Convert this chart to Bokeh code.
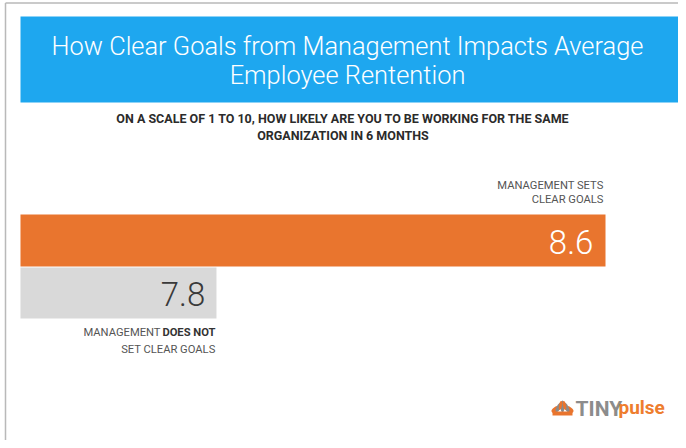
from bokeh.plotting import figure
from bokeh.models import Range1d
from bokeh.core.properties import value
from bokeh.embed import file_html
from bokeh.resources import INLINE

# ---- data ----
title_lines = ["How Clear Goals from Management Impacts Average", "Employee Rentention"]
subtitle_lines = ["ON A SCALE OF 1 TO 10, HOW LIKELY ARE YOU TO BE WORKING FOR THE SAME",
                  "ORGANIZATION IN 6 MONTHS"]
groups = ["Management sets clear goals", "Management does not set clear goals"]
scores = [8.6, 7.8]
score_labels = ["8.6", "7.8"]
axis_base = 7.397

W, H = 678, 440
FONT = value("Roboto")
LIGHT = value("Roboto Light, Roboto")

p = figure(width=W, height=H, output_backend="svg", toolbar_location=None,
           x_range=Range1d(7.3559, 8.7501), y_range=Range1d(H, 0),
           min_border=0, background_fill_color="white", border_fill_color="white")
p.extra_x_ranges = {"px": Range1d(0, W)}
p.axis.visible = False
p.grid.visible = False
p.outline_line_color = None

# border
p.segment(x0=[5, 5], y0=[2.5, 2.5], x1=[5, W], y1=[H, 2.5],
          line_color="#b9b9b9", line_width=1.5, x_range_name="px")

# banner
p.quad(left=[20], right=[681], top=[16], bottom=[102], fill_color="#1ea7ef",
       line_color=None, x_range_name="px")
p.text(x=[347, 347], y=[45, 74], text=title_lines, x_range_name="px",
       text_font=LIGHT, text_font_size="25.4px", text_color="white",
       text_align="center", text_baseline="middle")

# subtitle
p.text(x=[342.5, 342.5], y=[118, 135], text=subtitle_lines, x_range_name="px",
       text_font=FONT, text_font_size="12.5px", text_font_style="bold",
       text_color="#2b2b2b", text_align="center", text_baseline="middle")

# bars
bar_y = [240, 292.5]
bar_h = [52, 51]
bar_colors = ["#e9752e", "#d9d9d9"]
p.hbar(y=bar_y, left=axis_base, right=scores, height=bar_h,
       fill_color=bar_colors, line_color=None)

# value labels
p.text(x=[scores[0] - 0.025], y=[bar_y[0] + 1], text=[score_labels[0]],
       text_font=LIGHT, text_font_size="33px", text_color="white",
       text_align="right", text_baseline="middle")
p.text(x=[scores[1] - 0.023], y=[bar_y[1] + 1], text=[score_labels[1]],
       text_font=LIGHT, text_font_size="33px", text_color="#3a3a3a",
       text_align="right", text_baseline="middle")

# category labels
LS = "11.2px"
p.text(x=[603, 603], y=[185, 199], text=["MANAGEMENT SETS", "CLEAR GOALS"],
       x_range_name="px", text_font=FONT, text_font_size=LS,
       text_color="#555555", text_align="right", text_baseline="middle")
p.text(x=[160], y=[332], text=["MANAGEMENT"], x_range_name="px",
       text_font=FONT, text_font_size=LS, text_color="#555555",
       text_align="right", text_baseline="middle")
p.text(x=[215], y=[332], text=["DOES NOT"], x_range_name="px",
       text_font=FONT, text_font_size=LS, text_font_style="bold",
       text_color="#333333", text_align="right", text_baseline="middle")
p.text(x=[215], y=[349], text=["SET CLEAR GOALS"], x_range_name="px",
       text_font=FONT, text_font_size=LS, text_color="#555555",
       text_align="right", text_baseline="middle")

# logo: lotus icon
cx, cy = 562, 410
p.ellipse(x=[cx - 7, cx + 7], y=[cy - 1, cy - 1], width=[9, 9], height=[5, 5],
          angle=[0.6, -0.6], fill_color="#e9752e", line_color=None, x_range_name="px")
p.ellipse(x=[cx - 4, cx + 4], y=[cy - 3, cy - 3], width=[4, 4], height=[10, 10],
          angle=[-0.45, 0.45], fill_color="#8a8a8a", line_color=None, x_range_name="px")
p.ellipse(x=[cx], y=[cy - 4], width=[4], height=[12],
          fill_color="#8a8a8a", line_color=None, x_range_name="px")
p.ellipse(x=[cx - 2, cx + 2], y=[cy - 5, cy - 5], width=[3, 3], height=[9, 9],
          angle=[-0.2, 0.2], fill_color="#e9752e", line_color=None, x_range_name="px")
p.quad(left=[cx - 10], right=[cx + 10], top=[cy + 1], bottom=[cy + 5],
       fill_color="#e9752e", line_color=None, x_range_name="px")
p.text(x=[575], y=[408], text=["TINY"], x_range_name="px",
       text_font=FONT, text_font_size="21px", text_font_style="bold",
       text_color="#8c8c8c", text_align="left", text_baseline="middle")
p.text(x=[618], y=[407], text=["pulse"], x_range_name="px",
       text_font=FONT, text_font_size="19px", text_font_style="bold",
       text_color="#ee7d2e", text_align="left", text_baseline="middle")

open("out.html", "w").write(file_html(p, INLINE))
